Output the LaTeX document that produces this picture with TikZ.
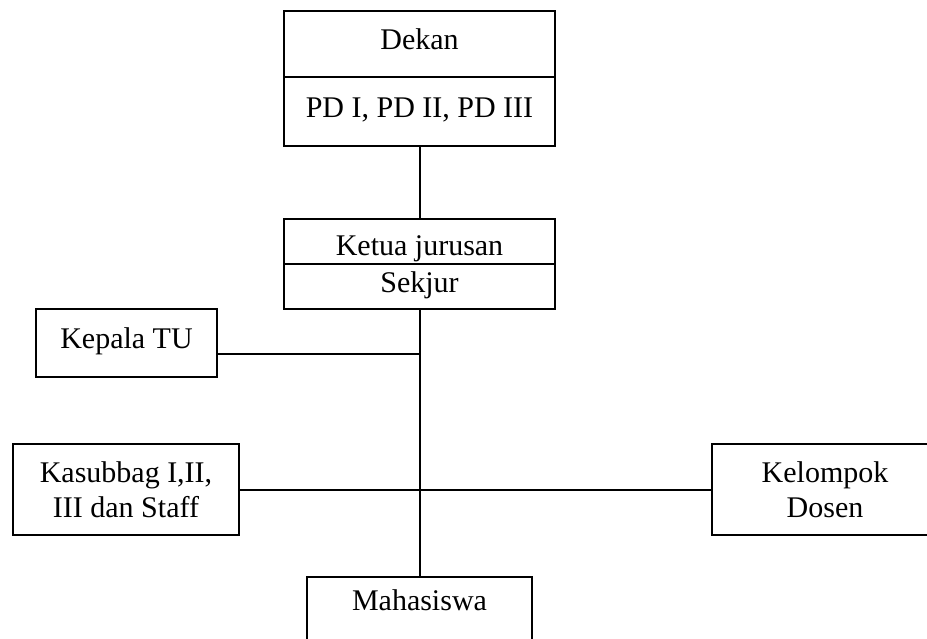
\documentclass[tikz,border=0pt]{standalone}
\usepackage{fontspec}
\setmainfont{Liberation Serif}
\usetikzlibrary{positioning}

\begin{document}
\begin{tikzpicture}[
  x=0.4pt, y=-0.4pt,
  box/.style={draw, line width=0.8pt, fill=white, inner sep=0pt,
              font=\fontsize{12}{14}\selectfont,
              text height=0.7em, text depth=0.25em},
  twoline/.style={draw, line width=0.8pt, fill=white, inner sep=0pt,
                  font=\fontsize{12}{14}\selectfont, align=center},
  link/.style={draw, line width=0.8pt},
]
\useasboundingbox (0,0) rectangle (927,639);
\clip (0,0) rectangle (927,639);

% Pimpinan fakultas
\node[box, minimum width=108.4pt, minimum height=26.4pt] (dekan) at (419.5,44)    {Dekan};
\node[box, minimum width=108.4pt, minimum height=27.6pt] (pd)    at (419.5,111.5) {PD I, PD II, PD III};

% Jurusan
\node[box, minimum width=108.4pt, minimum height=18pt, text height=1.1em, text depth=0pt]
  (ketua) at (419.5,241.5) {Ketua jurusan};
\node[box, minimum width=108.4pt, minimum height=18pt] (sekjur) at (419.5,286.5) {Sekjur};

% Unit lain
\node[box, minimum width=72.4pt, minimum height=27.2pt] (kepala) at (126.5,343) {Kepala TU};
\node[twoline, minimum width=90.4pt, minimum height=36.4pt] (kasubbag) at (126,489.5) {Kasubbag I,II,\\III dan Staff};
\node[twoline, minimum width=90.4pt, minimum height=36.4pt] (kelompok) at (825,489.5) {Kelompok\\Dosen};
\node[box, minimum width=90pt, anchor=north, inner ysep=6.4pt, text depth=1.5em]
  (mhs) at (419.5,576) {Mahasiswa};

% Garis
\coordinate (jTU) at (419.5,354);
\draw[link] (pd.south) -- (ketua.north);
\draw[link] (sekjur.south) -- (mhs.north);
\draw[link] (kepala.east |- jTU) -- (jTU);
\draw[link] (kasubbag.east) -- (kelompok.west);

\end{tikzpicture}
\end{document}
